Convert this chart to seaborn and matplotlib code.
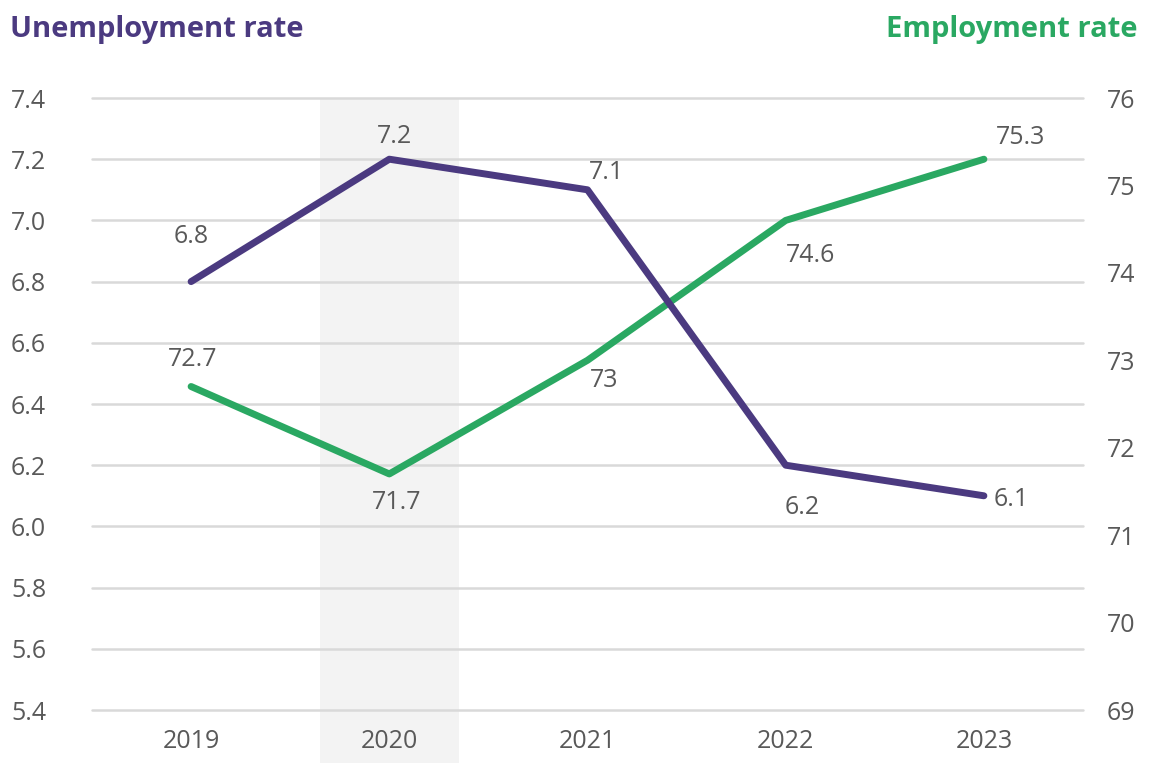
import matplotlib
matplotlib.use("Agg")
import matplotlib.pyplot as plt
import seaborn as sns
import pandas as pd

years = ["2019", "2020", "2021", "2022", "2023"]
unemployment = [6.8, 7.2, 7.1, 6.2, 6.1]
employment = [72.7, 71.7, 73.0, 74.6, 75.3]
unemp_labels = ["6.8", "7.2", "7.1", "6.2", "6.1"]
emp_labels = ["72.7", "71.7", "73", "74.6", "75.3"]
left_ticks = [5.4, 5.6, 5.8, 6.0, 6.2, 6.4, 6.6, 6.8, 7.0, 7.2, 7.4]
right_ticks = [69, 70, 71, 72, 73, 74, 75, 76]

PURPLE = "#4b3a80"
GREEN = "#2aa862"
TEXT = "#595959"
GRID = "#d9d9d9"
FS = 18

sns.set_theme(style="white")
plt.rcParams["font.family"] = ["Open Sans", "DejaVu Sans"]

df = pd.DataFrame({"year": years, "unemp": unemployment, "emp": employment})
df["x"] = range(len(years))

fig = plt.figure(figsize=(11.51, 7.63), dpi=100)
W, H = 1151, 763
ax = fig.add_axes([92 / W, 1 - 710 / H, (1083 - 92) / W, (710 - 98) / H])
ax2 = ax.twinx()
# the left axis (purple line) sits above the right axis (green line)
ax.set_zorder(ax2.get_zorder() + 1)
ax.patch.set_visible(False)
ax2.patch.set_facecolor("white")

ax.set_xlim(-0.5, 4.5)
ax.set_ylim(5.4, 7.4)
ax2.set_ylim(69, 76)

# highlighted 2020 band, running down through the tick label area
ax2.axvspan(0.65, 1.35, ymin=-0.1, ymax=1.0, color="#f3f3f3", zorder=0,
            clip_on=False, lw=0)
for y in left_ticks:
    # gridlines follow the left scale; convert to right-axis units
    y2 = 69 + (y - 5.4) / 2.0 * 7.0
    ax2.axhline(y2, color=GRID, lw=1.8, zorder=1, clip_on=False)

sns.lineplot(data=df, x="x", y="emp", ax=ax2, color=GREEN, lw=5,
             solid_capstyle="round", zorder=3)
sns.lineplot(data=df, x="x", y="unemp", ax=ax, color=PURPLE, lw=5,
             solid_capstyle="round", zorder=3)

ax.set_xticks(range(len(years)))
ax.set_xticklabels(years)
ax.set_yticks(left_ticks)
ax.set_yticklabels([f"{v:.1f}" for v in left_ticks])
ax2.set_yticks(right_ticks)
ax2.set_yticklabels([str(v) for v in right_ticks])

for a in (ax, ax2):
    a.set_xlabel("")
    a.set_ylabel("")
    for s in a.spines.values():
        s.set_visible(False)
    a.tick_params(length=0, labelsize=FS, labelcolor=TEXT)
    a.grid(False)
ax.tick_params(axis="y", pad=33)
ax2.tick_params(axis="y", pad=17)
ax.tick_params(axis="x", pad=14)

# value labels: centre offsets in pixels (dx right, dy up)
unemp_off = [(0, 45), (5, 23), (19, 17), (17, -42), (27, -4)]
emp_off = [(2, 27), (7, -29), (17, -20), (25, -35), (37, 22)]
PT = 0.72
for i, (v, t, (dx, dy)) in enumerate(zip(unemployment, unemp_labels, unemp_off)):
    ax.annotate(t, (i, v), xytext=(dx * PT, dy * PT), textcoords="offset points",
                ha="center", va="center", fontsize=FS, color=TEXT, zorder=5)
for i, (v, t, (dx, dy)) in enumerate(zip(employment, emp_labels, emp_off)):
    ax2.annotate(t, (i, v), xytext=(dx * PT, dy * PT), textcoords="offset points",
                 ha="center", va="center", fontsize=FS, color=TEXT, zorder=5)

fig.text(10 / W, 1 - 29 / H, "Unemployment rate", fontsize=21, fontweight="bold",
         color=PURPLE, ha="left", va="center")
fig.text(1138 / W, 1 - 29 / H, "Employment rate", fontsize=21, fontweight="bold",
         color=GREEN, ha="right", va="center")

fig.savefig("out.png", dpi=100, facecolor="white")
